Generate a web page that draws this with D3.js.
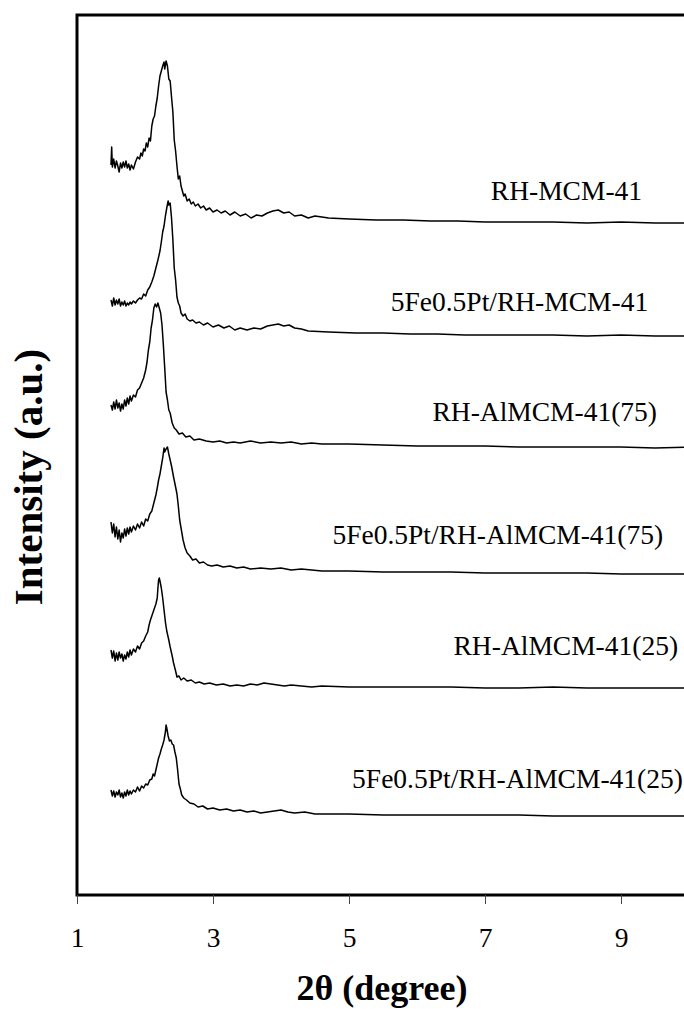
<!DOCTYPE html>
<html lang="en">
<head>
  <meta charset="UTF-8">
  <title>XRD patterns</title>
  <script src="https://d3js.org/d3.v7.min.js"></script>
  <style>
    body { margin: 0; padding: 0; background: #fff; }
    svg { display: block; font-family: "Liberation Serif", "Times New Roman", serif; }
  </style>
</head>
<body>
<svg id="chart" width="684" height="1009"></svg>
<script>
// 2θ (degree) and stacked intensity (a.u.)
const s1x = [1.50,1.51,1.52,1.54,1.56,1.58,1.60,1.62,1.64,1.66,1.68,1.70,1.72,1.74,1.76,1.78,1.80,1.83,1.86,1.89,1.92,1.94,1.96,1.98,2.00,2.02,2.04,2.06,2.08,2.10,2.12,2.14,2.16,2.18,2.20,2.22,2.24,2.26,2.28,2.29,2.31,2.33,2.35,2.37,2.39,2.41,2.43,2.45,2.47,2.49,2.51,2.53,2.55,2.57,2.59,2.62,2.65,2.68,2.71,2.74,2.78,2.82,2.86,2.90,2.95,3.00,3.06,3.12,3.18,3.25,3.32,3.40,3.48,3.56,3.64,3.72,3.80,3.88,3.96,4.04,4.12,4.20,4.30,4.40,4.50,4.70,5.00,5.40,5.80,6.20,6.60,7.00,7.50,8.00,8.50,9.00,9.50,10.00];
const s1y = [730,748,728,736,727,734,729,723,732,727,733,728,734,727,731,725,730,726,733,738,736,742,739,746,744,752,748,757,754,769,776,779,789,797,809,819,824,829,833,826,834,829,816,814,798,783,755,744,729,716,719,709,704,699,701,694,696,691,693,689,691,687,689,685,687,683,685,682,684,680,683,679,681,677,680,679,682,684,685,682,683,679,680,677,679,677,676,675,675,674,674,673,673,673,672,673,672,672];

const s2x = [1.50,1.52,1.54,1.56,1.58,1.60,1.62,1.64,1.66,1.68,1.70,1.72,1.74,1.76,1.78,1.80,1.83,1.86,1.89,1.92,1.95,1.98,2.01,2.04,2.07,2.10,2.13,2.16,2.19,2.22,2.24,2.26,2.28,2.30,2.32,2.34,2.35,2.37,2.39,2.41,2.43,2.45,2.47,2.49,2.51,2.53,2.56,2.59,2.62,2.66,2.70,2.75,2.80,2.86,2.92,3.00,3.08,3.16,3.24,3.32,3.40,3.50,3.60,3.70,3.80,3.88,3.96,4.04,4.12,4.20,4.30,4.40,4.70,5.10,5.50,5.90,6.30,6.70,7.10,7.50,8.00,8.50,9.00,9.50,10.00];
const s2y = [595,589,597,590,595,591,596,589,593,590,594,589,592,590,593,591,594,592,595,597,596,601,599,605,608,613,619,627,635,644,653,663,669,679,687,694,690,692,677,655,627,615,598,592,589,582,579,581,576,574,575,572,573,570,572,568,570,567,569,565,567,565,567,566,569,570,571,569,570,567,566,564,563,562,562,561,561,560,560,560,560,559,560,559,559];

const s3x = [1.50,1.52,1.54,1.56,1.58,1.60,1.62,1.64,1.66,1.68,1.70,1.72,1.74,1.76,1.78,1.80,1.83,1.86,1.89,1.92,1.95,1.98,2.01,2.03,2.05,2.07,2.09,2.11,2.13,2.15,2.17,2.19,2.21,2.23,2.25,2.27,2.29,2.31,2.33,2.35,2.37,2.40,2.43,2.46,2.50,2.55,2.60,2.66,2.72,2.80,2.90,3.00,3.10,3.20,3.30,3.40,3.55,3.70,3.85,4.00,4.15,4.30,4.45,4.60,5.00,5.50,6.00,6.50,7.00,7.50,8.00,8.50,9.00,9.50,10.00];
const s3y = [490,485,493,486,495,487,492,484,491,486,495,489,497,491,499,494,500,498,505,507,512,517,525,533,545,553,567,575,587,591,588,592,587,582,570,550,527,503,495,485,482,472,467,465,461,462,458,459,455,456,454,453,454,452,453,452,454,452,453,452,453,451,452,451,451,450,449,449,449,448,448,448,448,447,448];

const s4x = [1.50,1.52,1.54,1.56,1.58,1.60,1.62,1.64,1.66,1.68,1.70,1.72,1.74,1.76,1.78,1.80,1.83,1.86,1.89,1.92,1.95,1.98,2.01,2.04,2.07,2.10,2.13,2.16,2.18,2.20,2.22,2.24,2.26,2.28,2.29,2.31,2.33,2.35,2.37,2.39,2.42,2.45,2.47,2.49,2.51,2.54,2.56,2.59,2.62,2.66,2.70,2.75,2.80,2.86,2.92,2.98,3.06,3.15,3.25,3.35,3.45,3.55,3.70,3.85,4.00,4.15,4.30,4.45,4.60,5.00,5.50,6.00,6.50,7.00,7.50,8.00,8.50,9.00,9.50,10.00];
const s4y = [373,362,371,358,368,356,365,353,362,357,366,359,367,361,368,363,369,365,371,367,373,369,376,374,381,384,392,400,407,415,421,429,437,447,443,446,448,441,435,429,418,408,401,389,375,363,355,347,342,339,335,336,332,333,330,329,330,328,329,327,328,326,327,326,327,325,326,325,324,324,323,323,323,322,322,322,322,321,321,321];

const s5x = [1.50,1.52,1.54,1.56,1.58,1.60,1.62,1.64,1.66,1.68,1.70,1.72,1.74,1.76,1.78,1.80,1.83,1.86,1.89,1.92,1.95,1.98,2.01,2.04,2.06,2.08,2.10,2.12,2.14,2.16,2.18,2.19,2.20,2.21,2.22,2.24,2.26,2.28,2.30,2.32,2.35,2.37,2.40,2.42,2.45,2.47,2.50,2.53,2.57,2.62,2.68,2.74,2.80,2.87,2.95,3.05,3.15,3.25,3.35,3.45,3.55,3.65,3.75,3.85,3.95,4.05,4.15,4.30,4.45,4.60,5.00,5.50,6.00,6.50,7.00,7.50,8.00,8.50,9.00,9.50,10.00];
const s5y = [245,237,244,234,242,235,243,237,241,234,240,236,243,238,245,240,246,243,249,246,252,254,259,263,270,275,279,283,287,291,297,307,315,317,314,307,297,285,273,264,255,248,239,232,224,218,219,215,217,214,215,212,213,211,212,210,211,209,210,209,211,210,212,211,210,209,210,209,208,209,208,208,208,208,207,207,208,207,207,207,207];

const s6x = [1.50,1.52,1.54,1.56,1.58,1.60,1.62,1.64,1.66,1.68,1.70,1.72,1.74,1.76,1.78,1.80,1.83,1.86,1.89,1.92,1.95,1.98,2.01,2.04,2.07,2.10,2.12,2.14,2.16,2.18,2.20,2.22,2.24,2.26,2.28,2.30,2.31,2.32,2.34,2.36,2.38,2.40,2.42,2.44,2.46,2.48,2.50,2.52,2.54,2.57,2.61,2.66,2.72,2.78,2.85,2.92,3.00,3.10,3.20,3.30,3.40,3.50,3.60,3.70,3.80,3.90,4.00,4.10,4.20,4.35,4.50,5.00,5.50,6.00,6.50,7.00,7.50,8.00,8.50,9.00,9.50,10.00];
const s6y = [105,99,104,98,103,100,105,98,102,97,103,99,105,100,104,101,105,103,108,104,109,107,111,110,115,116,121,119,125,131,137,141,146,150,155,163,170,167,159,154,155,151,150,143,137,125,111,106,100,97,95,92,91,88,89,86,87,85,86,84,85,83,84,82,83,84,85,83,82,83,81,81,80,80,80,80,80,79,79,79,79,79];

const sampleNames = ["RH-MCM-41", "5Fe0.5Pt/RH-MCM-41", "RH-AlMCM-41(75)", "5Fe0.5Pt/RH-AlMCM-41(75)", "RH-AlMCM-41(25)", "5Fe0.5Pt/RH-AlMCM-41(25)"];
// label anchor (right end) in data units
const labelEndX = [9.31, 9.40, 9.53, 9.62, 9.84, 9.91];
const labelY = [695, 584, 474, 351, 240, 107];
const xTicks = [1, 3, 5, 7, 9];

const seriesX = [s1x, s2x, s3x, s4x, s5x, s6x];
const seriesY = [s1y, s2y, s3y, s4y, s5y, s6y];

const svg = d3.select("#chart");
const box = {left: 77, right: 689, top: 15, bottom: 895};

const x = d3.scaleLinear().domain([1, 10]).range([box.left, box.right]);
const y = d3.scaleLinear().domain([0, 880]).range([box.bottom, box.top]);

svg.append("defs").append("clipPath").attr("id", "clip")
  .append("rect").attr("x", box.left).attr("y", box.top)
  .attr("width", box.right - box.left).attr("height", box.bottom - box.top);

const line = d3.line().x(d => x(d[0])).y(d => y(d[1]));

const plot = svg.append("g").attr("clip-path", "url(#clip)");
seriesX.forEach((xs, i) => {
  const pts = xs.map((v, j) => [v, seriesY[i][j]]);
  plot.append("path")
    .datum(pts)
    .attr("d", line)
    .attr("fill", "none")
    .attr("stroke", "#000")
    .attr("stroke-width", 1.5)
    .attr("stroke-linejoin", "round");
});

// sample labels
sampleNames.forEach((name, i) => {
  svg.append("text")
    .attr("x", x(labelEndX[i]))
    .attr("y", y(labelY[i]))
    .attr("text-anchor", "end")
    .style("font-size", "27.5px")
    .text(name);
});

// frame
svg.append("rect")
  .attr("x", box.left).attr("y", box.top)
  .attr("width", box.right - box.left).attr("height", box.bottom - box.top)
  .attr("fill", "none").attr("stroke", "#000").attr("stroke-width", 3);

// x axis
const xAxis = svg.append("g")
  .attr("transform", `translate(0,${box.bottom})`)
  .call(d3.axisBottom(x).tickValues(xTicks).tickSize(9).tickFormat(d3.format("d")));
xAxis.select(".domain").remove();
xAxis.selectAll(".tick line").attr("stroke", "#444").attr("stroke-width", 1);
xAxis.selectAll("text")
  .attr("y", 52).attr("dy", 0)
  .attr("fill", "#000")
  .style("font-family", "'Liberation Serif', serif")
  .style("font-size", "27.5px");

svg.append("text")
  .attr("x", 382).attr("y", 1000)
  .attr("text-anchor", "middle")
  .style("font-weight", "bold")
  .style("font-size", "36px")
  .text("2θ (degree)");

svg.append("text")
  .attr("transform", "translate(42,477) rotate(-90)")
  .attr("text-anchor", "middle")
  .style("font-weight", "bold")
  .style("font-size", "41px")
  .text("Intensity (a.u.)");
</script>
</body>
</html>
